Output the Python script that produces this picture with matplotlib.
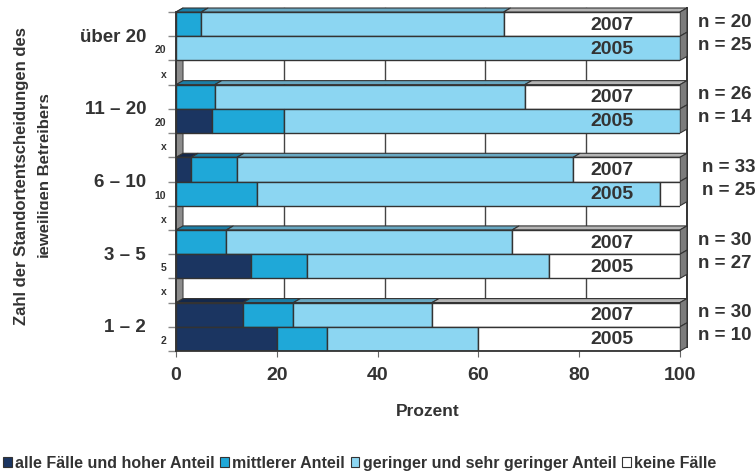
import numpy as np
import matplotlib
matplotlib.use("Agg")
import matplotlib.pyplot as plt
from matplotlib.patches import Polygon, Patch
from matplotlib.transforms import Bbox, TransformedBbox

plt.rcParams['font.family'] = ['Liberation Sans', 'DejaVu Sans']
plt.rcParams['font.weight'] = 'bold'
plt.rcParams['text.color'] = '#333333'

# --- Data (percent of cases per group) ---
groups = ['über 20', '11 – 20', '6 – 10', '3 – 5', '1 – 2']
short_labels = ['20', '20', '10', '5', '2']
years = ['2007', '2005']
categories = ['alle Fälle und hoher Anteil', 'mittlerer Anteil',
              'geringer und sehr geringer Anteil', 'keine Fälle']

high_2007 = [0, 0, 3.0, 0, 13.3]
mid_2007 = [5, 7.7, 9.1, 10, 10]
low_2007 = [60, 61.5, 66.7, 56.7, 27.5]
none_2007 = [35, 30.8, 21.2, 33.3, 49.2]

high_2005 = [0, 7.1, 0, 14.8, 20]
mid_2005 = [0, 14.3, 16, 11.1, 10]
low_2005 = [100, 78.6, 80, 48.1, 30]
none_2005 = [0, 0, 4, 26.0, 40]

n_2007 = [20, 26, 33, 30, 30]
n_2005 = [25, 14, 25, 27, 10]

# --- Styles ---
face_colors = ['#1b3561', '#1fa8d8', '#8cd6f2', '#ffffff']
top_colors = ['#14284a', '#1b7ea6', '#68a8c2', '#b4b4b4']
side_color = '#7c7c7c'
edge = '#333333'
n_x = [103.6, 103.6, 104.4, 103.6, 103.6]

fig = plt.figure(figsize=(7.55, 4.77), dpi=100)
ax = fig.add_axes([176 / 755, 125 / 477, 504 / 755, 339 / 477])
n_rows = 3 * len(groups) - 1
ax.set_xlim(0, 100)
ax.set_ylim(n_rows - 0.5, -0.5)

# depth of the pseudo-3D effect, 7 px right and 4 px up, in data units
ddx, ddy = ax.transData.inverted().transform(
    ax.transData.transform((0, 0)) + np.array([7, 4]))

top_y, bot_y = -0.5, n_rows - 0.5

# back wall: gridlines, right edge and left side wall
for v in [20, 40, 60, 80]:
    ax.plot([v + ddx, v + ddx], [top_y + ddy, bot_y + ddy], color='#444444',
            lw=1, zorder=1, clip_on=False)
ax.plot([100 + ddx, 100 + ddx], [top_y + ddy, bot_y + ddy], color=edge,
        lw=1.4, zorder=1, clip_on=False)
ax.add_patch(Polygon([(0, top_y), (ddx, top_y + ddy), (ddx, bot_y + ddy), (0, bot_y)],
                     closed=True, facecolor='#8c8c8c', edgecolor='#444444',
                     lw=0.8, zorder=1, clip_on=False))

data_2007 = [high_2007, mid_2007, low_2007, none_2007]
data_2005 = [high_2005, mid_2005, low_2005, none_2005]

for g in range(len(groups)):
    for k, series in enumerate([data_2007, data_2005]):
        row = 3 * g + k
        vals = [s[g] for s in series]
        lefts = np.concatenate([[0], np.cumsum(vals)[:-1]])
        for c, (l, w) in enumerate(zip(lefts, vals)):
            if w <= 0:
                continue
            ax.barh(row, w, left=l, height=1, color=face_colors[c],
                    edgecolor=edge, lw=1, zorder=3)
            if k == 0:
                t = row - 0.5
                ax.add_patch(Polygon([(l, t), (l + w, t), (l + w + ddx, t + ddy),
                                      (l + ddx, t + ddy)], closed=True,
                                     facecolor=top_colors[c], edgecolor=edge,
                                     lw=0.8, zorder=2, clip_on=False))
        end = lefts[-1] + vals[-1]
        ax.add_patch(Polygon([(end, row - 0.5), (end, row + 0.5),
                              (end + ddx, row + 0.5 + ddy), (end + ddx, row - 0.5 + ddy)],
                             closed=True, facecolor=side_color, edgecolor=edge,
                             lw=0.8, zorder=2, clip_on=False))
        ax.text(86.5, row, years[k], ha='center', va='center', fontsize=14,
                zorder=5)
    ax.text(n_x[g], 3 * g - 0.12, f'n = {n_2007[g]}', ha='left', va='center',
            fontsize=13.5, clip_on=False)
    ax.text(n_x[g], 3 * g + 0.83, f'n = {n_2005[g]}', ha='left', va='center',
            fontsize=13.5, clip_on=False)
    ax.annotate(groups[g], xy=(0, 3 * g + 0.5), xycoords=('axes fraction', 'data'),
                xytext=(-21.5, 0), textcoords='offset points', ha='right',
                va='center', fontsize=13.5)

# --- Axes ---
for side in ['top', 'right']:
    ax.spines[side].set_visible(False)
for side in ['left', 'bottom']:
    ax.spines[side].set_color(edge)
    ax.spines[side].set_linewidth(1.3)
    ax.spines[side].set_zorder(6)

ax.set_xticks([0, 20, 40, 60, 80, 100])
ax.tick_params(axis='x', length=4, color='#666666', labelsize=14, pad=7,
               labelcolor='#333333')

ax.set_yticks(np.arange(-0.5, n_rows, 1))
ax.set_yticklabels([])
ax.tick_params(axis='y', which='major', length=6, color='#888888', width=1)
minor_rows, minor_labels = [], []
for g in range(len(groups)):
    minor_rows += [3 * g, 3 * g + 1]
    minor_labels += ['', short_labels[g]]
    if 3 * g + 2 < n_rows:
        minor_rows.append(3 * g + 2)
        minor_labels.append('x')
ax.set_yticks(minor_rows, minor_labels, minor=True)
ax.tick_params(axis='y', which='minor', length=0, pad=7, labelsize=7.5,
               labelcolor='#333333')

fig.text(428 / 755, 1 - 412 / 477, 'Prozent', ha='center', va='center',
         fontsize=12.5)

# y label: second line is cut off at the left margin
ylab = fig.text(14 / 755, 1 - 176 / 477,
                'Zahl der Standortentscheidungen des\njeweiligen Betreibers',
                rotation=90, ha='left', va='center', multialignment='center',
                fontsize=12, linespacing=1.8)
ylab.set_clip_box(TransformedBbox(Bbox([[0, 0], [48 / 755, 1]]), fig.transFigure))
ylab.set_clip_on(True)

handles = [Patch(facecolor=c, edgecolor=edge, lw=0.8) for c in face_colors]
fig.legend(handles, categories, loc='center left',
           bbox_to_anchor=(0.0, 1 - 464 / 477), ncol=4, frameon=False,
           prop={'weight': 'bold', 'size': 11.5},
           handlelength=0.55, handleheight=0.6, handletextpad=0.2,
           columnspacing=0.35, borderaxespad=0, borderpad=0.2)

fig.savefig('out.png', dpi=100)
